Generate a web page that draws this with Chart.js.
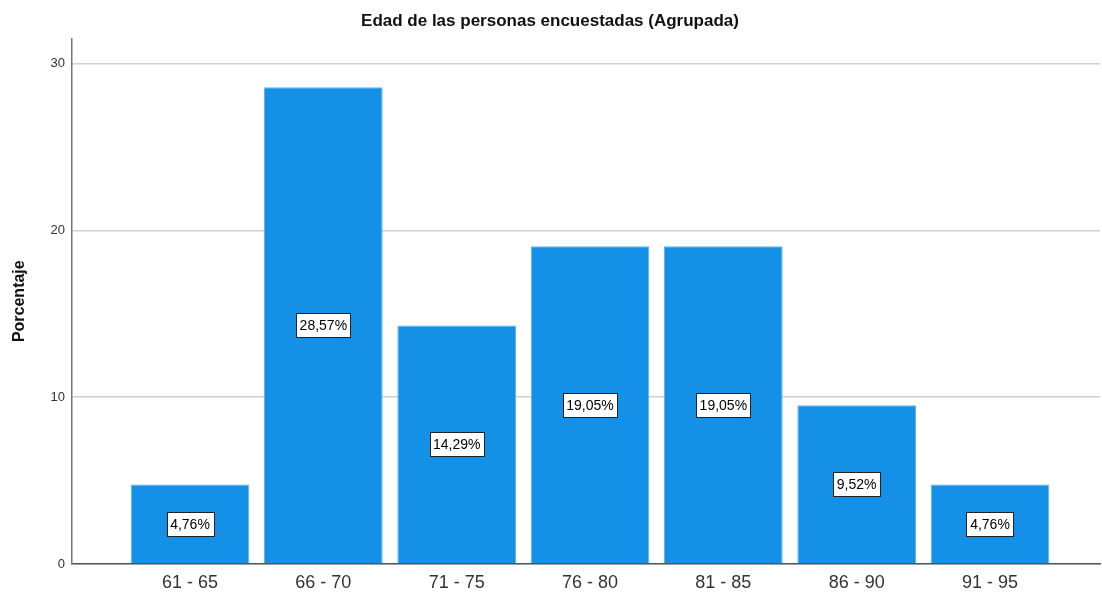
<!DOCTYPE html>
<html>
<head>
<meta charset="utf-8">
<script src="https://cdn.jsdelivr.net/npm/chart.js@4/dist/chart.umd.min.js"></script>
<style>
  html, body { margin: 0; padding: 0; background: #fff; }
  #wrap { width: 1102px; height: 598px; }
</style>
</head>
<body>
<div id="wrap"><canvas id="ageChart" width="1102" height="598"></canvas></div>
<script>
// Age groups and their share of respondents (%)
const categories = ['61 - 65', '66 - 70', '71 - 75', '76 - 80', '81 - 85', '86 - 90', '91 - 95'];
const percents = [4.76, 28.57, 14.29, 19.05, 19.05, 9.52, 4.76];
const yTicks = [0, 10, 20, 30];

// White boxes with the value in the middle of each bar
const valueBoxes = {
  id: 'valueBoxes',
  afterDatasetsDraw(chart) {
    const ctx = chart.ctx;
    const meta = chart.getDatasetMeta(0);
    ctx.save();
    ctx.font = '14px Arial, "Liberation Sans", sans-serif';
    ctx.textAlign = 'center';
    ctx.textBaseline = 'middle';
    meta.data.forEach((bar, i) => {
      const text = percents[i].toFixed(2).replace('.', ',') + '%';
      const cy = (bar.y + bar.base) / 2;
      const w = Math.round(ctx.measureText(text).width + 7);
      const h = 24;
      const x0 = Math.round(bar.x - w / 2) + 0.5;
      const y0 = Math.round(cy - h / 2) + 0.5;
      ctx.fillStyle = '#fff';
      ctx.fillRect(x0, y0, w, h);
      ctx.strokeStyle = '#222';
      ctx.lineWidth = 1;
      ctx.strokeRect(x0, y0, w, h);
      ctx.fillStyle = '#000';
      ctx.fillText(text, bar.x, cy + 1);
    });
    ctx.restore();
  }
};

function initializeChart() {
  const ctx = document.getElementById('ageChart').getContext('2d');
  new Chart(ctx, {
    type: 'bar',
    data: {
      datasets: [{
        data: percents.map((v, i) => ({ x: i, y: v })),
        backgroundColor: '#1490e7',
        borderColor: '#62b4f0',
        borderWidth: 1,
        barPercentage: 0.89,
        categoryPercentage: 1
      }]
    },
    options: {
      responsive: false,
      animation: false,
      layout: { padding: { top: 0, right: 2, left: 0, bottom: 0 } },
      plugins: {
        legend: { display: false },
        tooltip: { enabled: false },
        title: {
          display: true,
          text: 'Edad de las personas encuestadas (Agrupada)',
          color: '#111',
          font: { family: 'Arial, "Liberation Sans", sans-serif', size: 17, weight: 'bold' },
          padding: { top: 11, bottom: 7 }
        }
      },
      scales: {
        x: {
          type: 'linear',
          offset: false,
          min: -0.885,
          max: 6.825,
          afterBuildTicks: (scale) => { scale.ticks = categories.map((c, i) => ({ value: i })); },
          afterFit: (scale) => { scale.height = 34; },
          grid: { display: false, drawTicks: false, offset: false },
          border: { display: true, color: '#555', width: 1.5 },
          ticks: {
            autoSkip: false,
            maxRotation: 0,
            padding: 8,
            color: '#333',
            font: { family: 'Arial, "Liberation Sans", sans-serif', size: 18 },
            callback: (value) => categories[value]
          }
        },
        y: {
          min: 0,
          max: 31.5,
          afterBuildTicks: (scale) => { scale.ticks = yTicks.map(v => ({ value: v })); },
          afterFit: (scale) => { scale.width = 72; },
          grid: { color: '#cfcfcf', lineWidth: 1.5, drawTicks: false },
          border: { display: true, color: '#777', width: 1.5 },
          title: {
            display: true,
            text: 'Porcentaje',
            color: '#111',
            font: { family: 'Arial, "Liberation Sans", sans-serif', size: 16, weight: 'bold' },
            padding: { top: 10, bottom: 10 }
          },
          ticks: {
            padding: 7,
            color: '#333',
            font: { family: 'Arial, "Liberation Sans", sans-serif', size: 13 }
          }
        }
      }
    },
    plugins: [valueBoxes]
  });
}

document.addEventListener('DOMContentLoaded', initializeChart);
</script>
</body>
</html>
